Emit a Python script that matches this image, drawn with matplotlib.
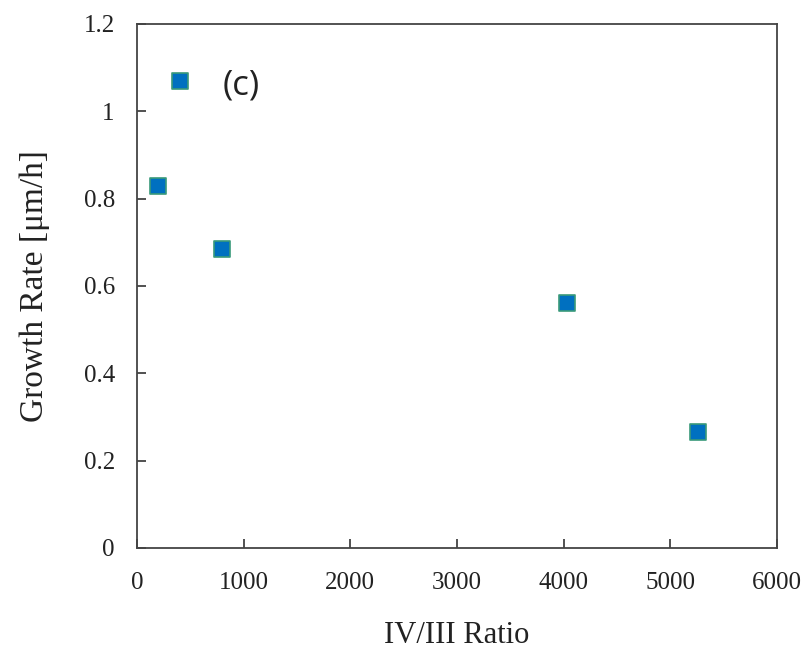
import matplotlib
matplotlib.use("Agg")
import matplotlib.pyplot as plt

# IV/III ratio vs growth rate
iv_iii_ratio = [200, 400, 800, 4030, 5260]
growth_rate = [0.83, 1.07, 0.685, 0.56, 0.265]

x_ticks = [0, 1000, 2000, 3000, 4000, 5000, 6000]
y_ticks = [0, 0.2, 0.4, 0.6, 0.8, 1.0, 1.2]
y_tick_labels = ["0", "0.2", "0.4", "0.6", "0.8", "1", "1.2"]

plt.rcParams["font.family"] = ["Liberation Serif", "DejaVu Serif"]

fig = plt.figure(figsize=(8.06, 6.5), dpi=100)
ax = fig.add_axes([137 / 806, 102 / 650, 640 / 806, 524 / 650])

ax.scatter(iv_iii_ratio, growth_rate, marker="s", s=120,
           facecolor="#0070c0", edgecolor="#3a9a7a", linewidth=1.2, zorder=3)

ax.set_xlim(0, 6000)
ax.set_ylim(0, 1.2)
ax.set_xticks(x_ticks)
ax.set_yticks(y_ticks)
ax.set_yticklabels(y_tick_labels)
ax.tick_params(direction="in", length=6.5, width=1.2, labelsize=18,
               colors="#333333", labelcolor="#222222")
ax.tick_params(axis="x", pad=17)
ax.tick_params(axis="y", pad=16)
for sp in ax.spines.values():
    sp.set_linewidth(1.3)
    sp.set_color("#444444")

ax.set_xlabel("IV/III Ratio", fontsize=22, labelpad=20, color="#222222")
ax.set_ylabel("Growth Rate [\u03bcm/h]", fontsize=24, labelpad=24, color="#222222")

ax.text(800, 1.06, "(c)", fontsize=25, family=["Open Sans", "DejaVu Sans"],
        va="center", ha="left", color="#222222")

fig.savefig("out.png", dpi=100)
